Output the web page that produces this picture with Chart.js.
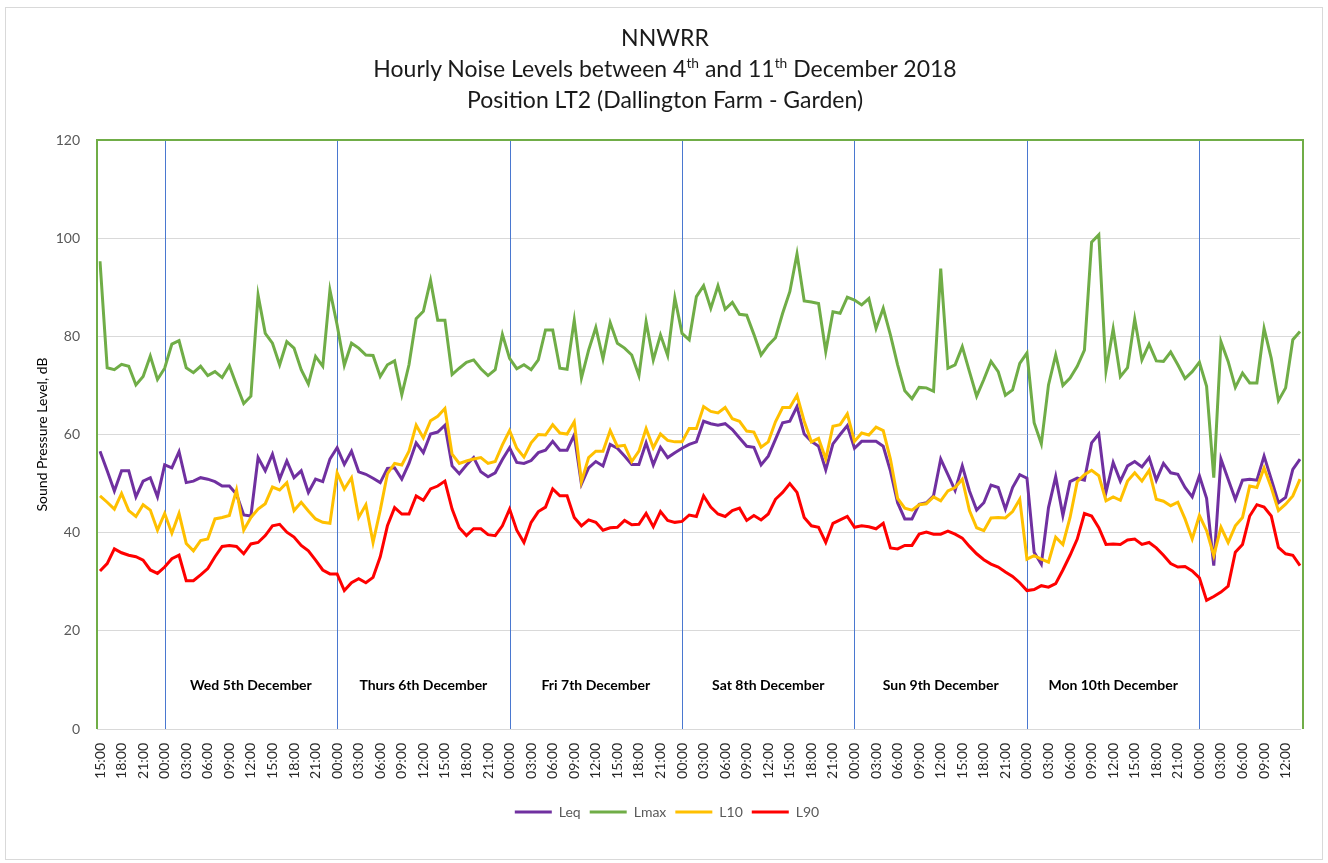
<!DOCTYPE html>
<html>
<head>
<meta charset="utf-8">
<title>NNWRR Hourly Noise Levels</title>
<script src="https://cdn.jsdelivr.net/npm/chart.js@4.4.1/dist/chart.umd.min.js"></script>
<style>
  body { margin: 0; background: #fff; }
  #wrap { position: relative; width: 1328px; height: 863px; }
  #frame {
    position: absolute; left: 5px; top: 7px; width: 1316px; height: 851px;
    border: 1px solid #d9d9d9;
  }
  #title {
    position: absolute; left: 0; top: 22px; width: 1330px;
    text-align: center; font-family: Lato, sans-serif; font-size: 23px;
    line-height: 31px; color: #1a1a1a;
  }
  #title sup { font-size: 0.6em; line-height: 0; vertical-align: 0; position: relative; top: -0.65em; }
  canvas { position: absolute; left: 0; top: 0; }
</style>
</head>
<body>
<div id="wrap">
  <div id="frame"></div>
  <canvas id="noiseChart" width="1328" height="863"></canvas>
  <div id="title">NNWRR<br>Hourly Noise Levels between 4<sup>th</sup> and 11<sup>th</sup> December 2018<br>Position LT2 (Dallington Farm - Garden)</div>
</div>
<script>
/* hourly labels, 15:00 on 4th Dec to 14:00 on 11th Dec */
const hourLabels = [];
for (let i = 0; i < 168; i++) {
  const hr = (15 + i) % 24;
  hourLabels.push(String(hr).padStart(2, "0") + ":00");
}

/* index of each 00:00 and the day names written between them */
const midnightIdx = [9, 33, 57, 81, 105, 129, 153];
const dayNames = [
  "Wed 5th December",
  "Thurs 6th December",
  "Fri 7th December",
  "Sat 8th December",
  "Sun 9th December",
  "Mon 10th December"
];

const leq = [
  56.6, 52.6, 48.5, 52.6, 52.6, 47.3, 50.5, 51.2, 47.3, 53.8, 53.2, 56.5, 50.2, 50.5, 51.2, 50.9, 50.4, 49.5, 49.5, 47.8,
  43.6, 43.4, 55.3, 52.6, 56.0, 50.9, 54.6, 51.2, 52.6, 48.2, 50.9, 50.4, 55.0, 57.3, 53.9, 56.6, 52.4, 51.9, 51.1, 50.2, 53.1,
  53.2, 50.9, 54.1, 58.3, 56.3, 60.1, 60.5, 61.9, 53.6, 52.0, 53.8, 55.3, 52.4, 51.4, 52.2, 54.9, 57.3, 54.3, 54.1, 54.7, 56.3,
  56.8, 58.6, 56.8, 56.8, 59.9, 49.9, 53.2, 54.5, 53.6, 58.0, 57.2, 55.6, 53.9, 53.9, 58.3, 53.8, 57.4, 55.3, 56.3, 57.2, 58.0,
  58.5, 62.7, 62.2, 61.9, 62.2, 61.0, 59.3, 57.6, 57.4, 53.8, 55.6, 59.0, 62.4, 62.7, 65.7, 60.1, 58.6, 57.6, 52.8, 58.1, 60.0,
  61.8, 57.2, 58.6, 58.6, 58.6, 57.6, 52.6, 46.1, 42.8, 42.8, 45.8, 46.1, 47.5, 55.0, 51.8, 48.6, 53.6, 48.5, 44.6, 46.1, 49.7,
  49.2, 44.8, 49.2, 51.8, 51.1, 36.0, 33.6, 45.1, 51.4, 43.5, 50.4, 51.1, 50.7, 58.3, 60.1, 48.2, 54.3, 50.5, 53.6, 54.5, 53.4,
  55.3, 50.7, 54.1, 52.2, 51.9, 49.2, 47.3, 51.6, 47.0, 33.3, 55.0, 50.9, 46.8, 50.7, 50.9, 50.7, 55.6, 50.9, 46.1, 47.2, 52.9, 55.0
];

const lmax = [
  95.3, 73.6, 73.2, 74.3, 73.9, 70.1, 71.8, 76.0, 71.2, 73.5, 78.4, 79.1, 73.6, 72.6, 73.9, 72.0, 72.8, 71.6, 74.0, 70.1,
  66.3, 67.8, 88.4, 80.6, 78.6, 74.2, 78.9, 77.6, 73.2, 70.3, 75.9, 73.9, 89.4, 82.3, 74.1, 78.6, 77.6, 76.2, 76.1, 71.8, 74.2,
  75.0, 68.1, 74.2, 83.6, 85.1, 91.4, 83.3, 83.3, 72.2, 73.5, 74.7, 75.2, 73.4, 72.0, 73.2, 80.4, 75.5, 73.4, 74.2, 73.2, 75.2,
  81.3, 81.3, 73.5, 73.3, 83.3, 71.5, 77.2, 81.8, 75.4, 82.8, 78.6, 77.6, 76.2, 72.0, 83.0, 75.2, 80.3, 76.1, 87.8, 80.6, 79.3,
  88.1, 90.3, 85.7, 90.3, 85.5, 86.9, 84.5, 84.3, 80.4, 76.2, 78.2, 79.7, 84.7, 89.1, 96.8, 87.2, 87.0, 86.7, 76.9, 85.0, 84.7,
  88.0, 87.4, 86.4, 87.7, 81.6, 85.7, 80.3, 74.2, 68.9, 67.3, 69.6, 69.5, 68.8, 93.8, 73.5, 74.2, 77.9, 72.8, 67.8, 71.2, 74.9,
  72.8, 68.0, 69.1, 74.5, 76.6, 62.4, 58.1, 70.1, 76.2, 70.0, 71.5, 73.9, 77.2, 99.2, 100.7, 73.0, 81.5, 71.8, 73.6, 83.5, 75.2,
  78.4, 75.0, 74.9, 76.8, 74.2, 71.4, 72.8, 74.7, 69.8, 51.2, 78.9, 74.9, 69.6, 72.5, 70.5, 70.5, 81.6, 75.5, 66.9, 69.5, 79.3, 81.0
];

const l10 = [
  47.5, 46.2, 44.8, 48.0, 44.5, 43.3, 45.7, 44.6, 40.5, 43.9, 39.9, 43.9, 37.8, 36.3, 38.4, 38.7, 42.8, 43.1, 43.5, 48.7,
  40.5, 43.1, 44.8, 45.9, 49.3, 48.7, 50.2, 44.5, 46.2, 44.4, 42.8, 42.1, 41.9, 52.2, 48.9, 51.2, 43.1, 45.7, 38.0, 44.6, 52.0,
  54.1, 53.8, 56.6, 61.9, 59.3, 62.8, 63.7, 65.3, 56.0, 54.1, 54.6, 55.0, 55.3, 54.1, 54.5, 57.9, 60.8, 57.2, 55.4, 58.3, 60.0,
  59.9, 62.0, 60.3, 60.1, 62.6, 50.4, 55.3, 56.6, 56.6, 60.8, 57.6, 57.8, 54.5, 56.6, 61.2, 57.3, 60.1, 58.8, 58.5, 58.5, 61.2,
  61.2, 65.7, 64.7, 64.4, 65.5, 63.2, 62.7, 60.7, 60.5, 57.4, 58.5, 62.6, 65.5, 65.5, 68.0, 62.7, 58.5, 59.2, 55.0, 61.7, 62.0,
  64.2, 58.6, 60.3, 59.9, 61.5, 60.8, 55.0, 47.0, 45.0, 44.6, 45.7, 45.9, 47.3, 46.5, 48.5, 49.2, 50.9, 44.5, 41.0, 40.4, 43.0,
  43.1, 43.0, 44.3, 46.8, 34.6, 35.3, 34.6, 34.0, 39.1, 37.6, 43.1, 50.4, 51.8, 52.7, 51.6, 46.5, 47.3, 46.6, 50.5, 52.2, 50.5,
  52.7, 46.8, 46.4, 45.5, 46.2, 42.8, 38.7, 43.5, 40.4, 35.3, 41.1, 38.0, 41.4, 43.1, 49.5, 49.2, 53.2, 49.2, 44.5, 45.8, 47.5, 50.9
];

const l90 = [
  32.2, 33.7, 36.7, 35.9, 35.4, 35.1, 34.4, 32.4, 31.7, 33.0, 34.7, 35.4, 30.2, 30.2, 31.4, 32.7, 35.1, 37.2, 37.4, 37.2,
  35.7, 37.7, 38.0, 39.4, 41.4, 41.7, 40.1, 39.1, 37.4, 36.3, 34.4, 32.4, 31.6, 31.6, 28.2, 29.8, 30.6, 29.8, 30.9, 35.1, 41.4,
  45.1, 43.8, 43.8, 47.5, 46.6, 48.9, 49.5, 50.5, 44.8, 41.0, 39.4, 40.8, 40.8, 39.6, 39.4, 41.4, 44.8, 40.5, 38.0, 42.1, 44.3,
  45.2, 48.9, 47.5, 47.5, 43.1, 41.4, 42.6, 42.1, 40.5, 41.0, 41.1, 42.5, 41.6, 41.7, 43.9, 41.2, 44.3, 42.5, 42.1, 42.3, 43.6,
  43.3, 47.5, 45.2, 43.8, 43.3, 44.5, 45.0, 42.5, 43.5, 42.6, 43.8, 46.8, 48.2, 50.0, 48.2, 43.1, 41.4, 41.1, 38.0, 41.9, 42.6,
  43.3, 41.1, 41.4, 41.2, 40.8, 41.9, 36.9, 36.7, 37.4, 37.4, 39.7, 40.1, 39.7, 39.7, 40.3, 39.7, 38.9, 37.2, 35.7, 34.5, 33.6,
  33.0, 32.0, 31.1, 29.8, 28.2, 28.4, 29.2, 28.9, 29.6, 32.4, 35.4, 38.7, 43.9, 43.4, 41.0, 37.6, 37.7, 37.6, 38.5, 38.7, 37.6,
  38.0, 36.9, 35.4, 33.7, 33.0, 33.1, 32.2, 30.8, 26.2, 27.0, 27.9, 29.1, 36.0, 37.6, 43.4, 45.7, 45.2, 43.4, 37.0, 35.7, 35.4, 33.3
];

const yTicks = [0, 20, 40, 60, 80, 100, 120];

Chart.defaults.font.family = "Lato, sans-serif";

/* day separators, green plot frame and day names */
const dayMarks = {
  id: "dayMarks",
  beforeDatasetsDraw(chart) {
    const ctx = chart.ctx;
    const area = chart.chartArea;
    const x = chart.scales.x;
    const y = chart.scales.y;
    ctx.save();

    ctx.strokeStyle = "#4a78d0";
    ctx.lineWidth = 1;
    midnightIdx.forEach(function (i) {
      const px = Math.round(x.getPixelForValue(i)) + 0.5;
      ctx.beginPath();
      ctx.moveTo(px, area.top);
      ctx.lineTo(px, area.bottom);
      ctx.stroke();
    });

    // frame sits a little outside the first and last points, as in Excel
    ctx.strokeStyle = "#70ad47";
    ctx.lineWidth = 2;
    ctx.beginPath();
    ctx.moveTo(area.left - 3, area.bottom);
    ctx.lineTo(area.left - 3, area.top);
    ctx.lineTo(area.right + 3, area.top);
    ctx.lineTo(area.right + 3, area.bottom);
    ctx.stroke();

    ctx.font = "bold 14px Lato, sans-serif";
    ctx.fillStyle = "#000";
    ctx.textAlign = "center";
    ctx.textBaseline = "middle";
    dayNames.forEach(function (name, k) {
      ctx.fillText(name, x.getPixelForValue(midnightIdx[k] + 12), y.getPixelForValue(8.8));
    });

    ctx.restore();
  }
};

function lineSet(label, data, colour, order) {
  return {
    label: label,
    data: data,
    borderColor: colour,
    backgroundColor: colour,
    borderWidth: 3,
    pointRadius: 0,
    tension: 0,
    order: order
  };
}

new Chart(document.getElementById("noiseChart"), {
  type: "line",
  data: {
    labels: hourLabels,
    datasets: [
      lineSet("Leq", leq, "#7030a0", 4),
      lineSet("Lmax", lmax, "#70ad47", 3),
      lineSet("L10", l10, "#ffc000", 2),
      lineSet("L90", l90, "#ff0000", 1)
    ]
  },
  options: {
    responsive: false,
    animation: false,
    devicePixelRatio: 1,
    layout: {
      padding: { top: 140, left: 34, right: 28, bottom: 34 }
    },
    plugins: {
      title: { display: false },
      tooltip: { enabled: false },
      legend: {
        position: "bottom",
        labels: {
          usePointStyle: true,
          pointStyle: "line",
          pointStyleWidth: 37,
          boxHeight: 14,
          padding: 9,
          color: "#595959",
          font: { size: 14 },
          sort: function (a, b) {
            return a.datasetIndex - b.datasetIndex;
          }
        }
      }
    },
    scales: {
      x: {
        type: "category",
        offset: false,
        grid: { display: false },
        border: { color: "#d9d9d9", width: 1 },
        ticks: {
          autoSkip: false,
          minRotation: 90,
          maxRotation: 90,
          padding: 6,
          color: "#262626",
          font: { size: 14 },
          callback: function (value, index) {
            return index % 3 === 0 ? hourLabels[index] : null;
          }
        },
        afterFit: function (scale) {
          scale.height = 67;
        }
      },
      y: {
        min: yTicks[0],
        max: yTicks[yTicks.length - 1],
        grid: { color: "#d9d9d9", lineWidth: 1, tickLength: 3 },
        border: { display: false },
        ticks: {
          stepSize: 20,
          padding: 17,
          color: "#595959",
          font: { size: 14 }
        },
        title: {
          display: true,
          text: "Sound Pressure Level, dB",
          color: "#000",
          font: { size: 14 },
          padding: { top: 0, bottom: 0 }
        },
        afterFit: function (scale) {
          scale.width = 66;
        }
      }
    }
  },
  plugins: [dayMarks]
});
</script>
</body>
</html>
